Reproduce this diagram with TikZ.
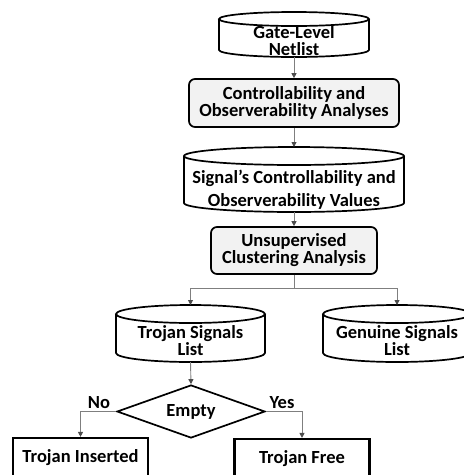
\documentclass[tikz,border=0pt]{standalone}
\usepackage{fontspec}
\setmainfont{Carlito}
\usetikzlibrary{arrows.meta,shapes.geometric}
\definecolor{procfill}{HTML}{F2F2F2}
\definecolor{linegray}{HTML}{7F7F7F}
\newcommand\mycyl[6]{% name, cx, top, bottom, hw, ry
  \draw[shp,fill=white] ({#2-#5},{-#3-#6}) -- ({#2-#5},{-#4+#6})
     arc[start angle=180,end angle=360,x radius=#5pt,y radius=#6pt]
     -- ({#2+#5},{-#3-#6});
  \draw[shp] (#2,{-#3-#6}) ellipse[x radius=#5pt,y radius=#6pt];
  \node[ghost, minimum width={2*#5}, minimum height={#4-#3}] (#1) at (#2,{-(#3+#4)/2}) {};
}
\begin{document}
\begin{tikzpicture}[x=1pt,y=1pt,
  txt/.style={font=\bfseries\fontsize{18.5}{17}\selectfont, align=center, inner sep=0pt},
  ghost/.style={inner sep=0pt, outer sep=0pt},
  shp/.style={draw=black, line width=1.7pt},
  proc/.style={shp, rounded corners=6pt, fill=procfill, txt, minimum width=210, minimum height=48},
  result/.style={draw=black, line width=2.2pt, txt, minimum width=135, minimum height=40},
  conn/.style={draw=linegray, line width=0.9pt, -{Triangle[length=5pt,width=5pt,color=black!70]}},
]
\useasboundingbox (0,0) rectangle (464,-475);
\clip (0,0) rectangle (464,-475);

% Gate-Level Netlist
\mycyl{gate}{294}{12}{57}{75}{7}
\node[txt] (gateT) at (294,-41) {Gate-Level\\Netlist};

% Controllability and Observerability Analyses
\node[proc] (ctrl) at (294,-103) {Controllability and\\Observerability Analyses};

% Signal's values
\mycyl{sig}{294}{147}{212}{110}{9}
\node[txt, font=\bfseries\fontsize{18.5}{23}\selectfont] (sigT) at (294,-190) {Signal’s Controllability and\\Observerability Values};

% Unsupervised Clustering
\node[proc, minimum width=166, minimum height=47] (unsup) at (294,-250.5) {Unsupervised\\Clustering Analysis};

% Lists
\mycyl{trojan}{190.5}{305}{362}{74.5}{9}
\node[txt] (trojanT) at (190.5,-341) {Trojan Signals\\List};
\mycyl{genuine}{397}{305}{362}{74}{9}
\node[txt] (genuineT) at (397,-341) {Genuine Signals\\List};

% Decision
\node[shp, diamond, aspect=2.8, minimum width=148, minimum height=53, inner sep=0pt, txt] (empty) at (191,-411.5) {Empty};

% Results
\node[result] (ins) at (80.5,-458) {Trojan Inserted};
\node[result] (free) at (302,-459) {Trojan Free};

% Labels
\node[txt] (no) at (99,-403) {No};
\node[txt] (yes) at (282,-403) {Yes};

% Connectors
\draw[conn] (gate.south) -- (ctrl.north);
\draw[conn] (ctrl.south) -- (sig.north);
\draw[conn] (sig.south) -- (unsup.north);
\draw[conn] (unsup.south) -- ++(0,-14) -| (trojan.north);
\draw[conn] (unsup.south) -- ++(0,-14) -| (genuine.north);
\draw[conn] (trojan.south) -- (empty.north);
\draw[conn] (empty.west) -| (ins.north);
\draw[conn] (empty.east) -| (free.north);
\end{tikzpicture}
\end{document}
